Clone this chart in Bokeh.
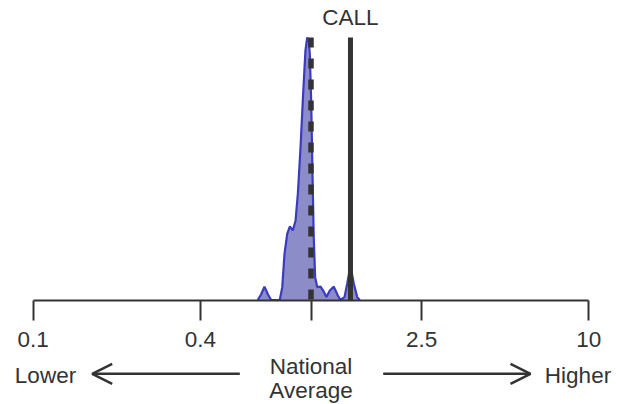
from bokeh.plotting import figure
from bokeh.models import Range1d, LogAxis, FixedTicker, Arrow, OpenHead, ColumnDataSource
from bokeh.core.properties import value
from bokeh.embed import file_html
from bokeh.resources import INLINE

# ---- data ----
ratio = [0.643, 0.661, 0.680, 0.700, 0.719, 0.772, 0.788, 0.803, 0.821, 0.839,
         0.860, 0.880, 0.897, 0.917, 0.937, 0.955, 0.969, 0.982, 0.990, 1.002,
         1.012, 1.023, 1.035, 1.053, 1.082, 1.106, 1.137, 1.169, 1.208, 1.249,
         1.277, 1.320, 1.350, 1.387, 1.426, 1.467, 1.498]
density = [0, 0.021, 0.051, 0.021, 0, 0, 0.049, 0.177, 0.252, 0.280,
           0.265, 0.303, 0.406, 0.582, 0.786, 0.950, 1.0, 0.989, 0.939, 0.749,
           0.493, 0.239, 0.087, 0.049, 0.051, 0.036, 0.011, 0.036, 0.051, 0.017,
           0, 0.011, 0.062, 0.131, 0.062, 0.011, 0]
tick_values = [0.1, 0.4, 1.0, 2.5, 10.0]
tick_labels = ["0.1", "0.4", "", "2.5", "10"]
national_average = 1.0
facility_value = 1.387
facility_label = "CALL"
lower_label = "Lower"
higher_label = "Higher"
middle_label = ["National", "Average"]

# ---- layout ----
W, H = 625, 404
X0, DEC = 310.5, 277.8   # canvas px of ratio 1, px per decade
Y0, YU = 299.5, 262.5    # canvas px of density 0, px per density unit

def xd(px):  # canvas px -> data
    return 10 ** ((px - X0) / DEC)

def yd(py):
    return (Y0 - py) / YU

INK = "#333333"
FONT = "Liberation Sans"
FS = "22.5px"

p = figure(width=W, height=H, output_backend="svg", toolbar_location=None,
           x_axis_type="log", x_axis_location=None, y_axis_location=None,
           x_range=Range1d(xd(0), xd(W)),
           y_range=Range1d(yd(H), yd(0)),
           min_border=0, outline_line_color=None)
p.grid.visible = False

src = ColumnDataSource(dict(x=ratio, y=density))
p.varea(x="x", y1=0, y2="y", source=src, fill_color="#8c8cc9", fill_alpha=1.0)
p.line(x="x", y="y", source=src, line_color="#3b3bbf", line_width=2.2)

top = max(density)
p.segment(x0=[national_average], y0=[top], x1=[national_average], y1=[0],
          line_color=INK, line_width=5.5, line_dash="10 11")
p.segment(x0=[facility_value], y0=[0], x1=[facility_value], y1=[top],
          line_color=INK, line_width=5)

axis = LogAxis(fixed_location=0, bounds=(tick_values[0], tick_values[-1]),
               ticker=FixedTicker(ticks=tick_values, minor_ticks=[]),
               major_label_overrides={t: l for t, l in zip(tick_values, tick_labels)},
               axis_line_color=INK, axis_line_width=2,
               major_tick_line_color=INK, major_tick_line_width=2,
               major_tick_in=0, major_tick_out=20, minor_tick_in=0, minor_tick_out=0,
               major_label_standoff=12,
               major_label_text_font=FONT, major_label_text_font_size=FS,
               major_label_text_color=INK)
p.add_layout(axis, "below")

txt = dict(text_font=value(FONT), text_font_size=value(FS), text_color=INK,
           text_align="center", text_baseline="middle")
p.text(x=[facility_value], y=[yd(17)], text=[facility_label], **txt)
p.text(x=[xd(45)], y=[yd(375)], text=[lower_label], **txt)
p.text(x=[xd(577.5)], y=[yd(375)], text=[higher_label], **txt)
p.text(x=[national_average], y=[yd(365.5)], text=[middle_label[0]], **txt)
p.text(x=[national_average], y=[yd(390)], text=[middle_label[1]], **txt)

ya = yd(373.3)
for xs, xe in [(xd(239.3), xd(91.7)), (xd(382.7), xd(530))]:
    p.add_layout(Arrow(end=OpenHead(size=20, line_width=2.5, line_color=INK),
                       x_start=xs, y_start=ya, x_end=xe, y_end=ya,
                       line_width=2.5, line_color=INK))

open("out.html", "w").write(file_html(p, INLINE))
